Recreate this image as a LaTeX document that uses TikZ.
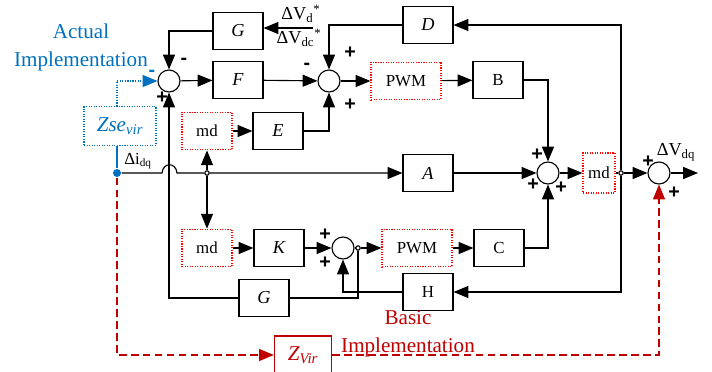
\documentclass[tikz,border=0pt]{standalone}
\usepackage{fontspec}
\setmainfont{Liberation Serif}
\newfontfamily\signfont{Liberation Sans}
\usetikzlibrary{arrows.meta}

\definecolor{actblue}{RGB}{0,112,192}
\definecolor{basred}{RGB}{192,0,0}
\definecolor{mdred}{RGB}{255,0,0}

\tikzset{
  blk/.style={draw, inner sep=0pt, minimum width=1.25cm, minimum height=0.94cm, font=\fontsize{12}{14}\selectfont},
  blkit/.style={blk, font=\fontsize{13}{15}\selectfont\itshape},
  mdblk/.style={blk, draw=mdred, densely dotted},
  sumc/.style={circle, draw, inner sep=0pt, minimum size=0.55cm},
  jdot/.style={circle, draw, fill=white, inner sep=0pt, minimum size=1.1mm},
  sgn/.style={inner sep=0pt, font=\signfont\bfseries\fontsize{14}{14}\selectfont},
  rdash/.style={basred, dash pattern=on 5.5pt off 3pt},
}

\begin{document}
\begin{tikzpicture}[x=0.025cm, y=-0.025cm, line width=0.8pt, >={Triangle[length=3.7mm,width=3mm]}]
  \useasboundingbox (0,0) rectangle (712,371);

  \node[sumc] (s1) at (169,81) {};
  \node[sumc] (s2) at (329,81) {};
  \node[sumc] (s3) at (548,173) {};
  \node[sumc] (s4) at (659,173) {};
  \node[sumc] (s5) at (343,248) {};

  \node[blkit] (Gt) at (238,31) {G};
  \node[blkit] (F) at (238,80) {F};
  \node[blkit] (D) at (428,25) {D};
  \node[mdblk, minimum width=1.75cm] (pwmt) at (406,81) {PWM};
  \node[blk] (B) at (498,80) {B};
  \node[mdblk] (mdt) at (207,131) {md};
  \node[blkit] (E) at (278,131) {E};
  \node[blkit] (A) at (428,173) {A};
  \node[mdblk, minimum width=0.8cm, minimum height=1cm] (mdr) at (599,173) {md};
  \node[mdblk] (mdb) at (207,248) {md};
  \node[blkit] (K) at (279,248) {K};
  \node[mdblk, minimum width=1.75cm] (pwmb) at (417,248) {PWM};
  \node[blk] (C) at (499,248) {C};
  \node[blk] (H) at (428,292) {H};
  \node[blkit] (Gb) at (264,298) {G};

  \node[blk, draw=actblue, densely dotted, minimum width=1.8cm, minimum height=0.97cm, text=actblue, font=\fontsize{15}{17}\selectfont\itshape] (zse) at (120,126) {Zse\textsubscript{vir}};
  \node[blk, draw=basred, minimum width=1.43cm, minimum height=0.95cm, text=basred, font=\fontsize{15}{17}\selectfont\itshape] (zvir) at (303,355) {Z\textsubscript{Vir}};

  \node[circle, fill=actblue, inner sep=0pt, minimum size=2mm] (di) at (117,173) {};
  \node[jdot] (j1) at (207,173) {};
  \node[jdot] (jr) at (621,173) {};
  \node[jdot] (j5) at (358,248) {};
  \coordinate (hopl) at (162,173);
  \coordinate (hopr) at (177,173);
  \coordinate (dvin) at (313,28);
  \coordinate (vout) at (698,173);

  \node[text=actblue, align=center, inner sep=0pt, font=\fontsize{15}{20}\selectfont] (act) at (81,47) {Actual\\Implementation};
  \node[text=basred, align=center, inner sep=0pt, font=\fontsize{15}{20}\selectfont] (bas) at (408,334) {Basic\\Implementation};
  \node[font=\fontsize{13}{15}\selectfont] (dvd) at (301,14) {ΔV\textsubscript{d}\textsuperscript{*}};
  \node[font=\fontsize{13}{15}\selectfont] (dvdc) at (299,38) {ΔV\textsubscript{dc}\textsuperscript{*}};
  \node[font=\fontsize{12}{14}\selectfont] (dilbl) at (138,161) {Δi\textsubscript{dq}};
  \node[font=\fontsize{13}{15}\selectfont] (dvlbl) at (676,152) {ΔV\textsubscript{dq}};

  \node[sgn] (s1a) at (184,61) {-};
  \node[sgn, text=actblue] (s1b) at (152,73) {-};
  \node[sgn] (s1c) at (162,98) {+};
  \node[sgn] (s2a) at (307,66) {-};
  \node[sgn] (s2b) at (350,53) {+};
  \node[sgn] (s2c) at (350,105) {+};
  \node[sgn] (s3a) at (537,155) {+};
  \node[sgn] (s3b) at (533,185) {+};
  \node[sgn] (s3c) at (561,188) {+};
  \node[sgn] (s4a) at (648,162) {+};
  \node[sgn] (s4b) at (674,193) {+};
  \node[sgn] (s5a) at (325,235) {+};
  \node[sgn] (s5b) at (325,263) {+};

  \draw[->] (di) -- (hopl) .. controls (163,162) and (176,162) .. (hopr) -- (j1) -- (A);
  \draw[actblue] (di) -- (di |- zse.south);
  \draw[->, actblue, densely dotted] (di |- zse.north) |- (s1.west);
  \draw[->, rdash] (di) |- (zvir.west);
  \draw[->, rdash] (zvir.east) -| (s4.south);

  \draw[->] (dvin) -- (dvin -| Gt.east);
  \draw[->] (Gt.west) -| (s1.north);
  \draw[->] (s1) -- (F);
  \draw[->] (F) -- (s2);
  \draw[->] (s2) -- (pwmt);
  \draw[->] (pwmt) -- (B);
  \draw[->] (B.east) -| (s3.north);
  \draw[->] (D.west) -| (s2.north);
  \draw[->] (j1) -- (mdt);
  \draw[->] (j1) -- (mdb);
  \draw[->] (mdt) -- (E);
  \draw[->] (E.east) -| (s2.south);

  \draw[->] (A) -- (s3);
  \draw[->] (s3) -- (mdr);
  \draw (mdr) -- (jr);
  \draw[->] (jr) -- (s4);
  \draw[->] (s4) -- (vout);
  \draw[->] (jr) |- (D.east);
  \draw[->] (jr) |- (H.east);

  \draw[->] (mdb) -- (K);
  \draw[->] (K) -- (s5);
  \draw (s5) -- (j5);
  \draw[->] (j5) -- (pwmb);
  \draw[->] (pwmb) -- (C);
  \draw[->] (C.east) -| (s3.south);
  \draw[->] (H.west) -| (s5.south);
  \draw (j5) |- (Gb.east);
  \draw[->] (Gb.west) -| (s1.south);
\end{tikzpicture}
\end{document}
